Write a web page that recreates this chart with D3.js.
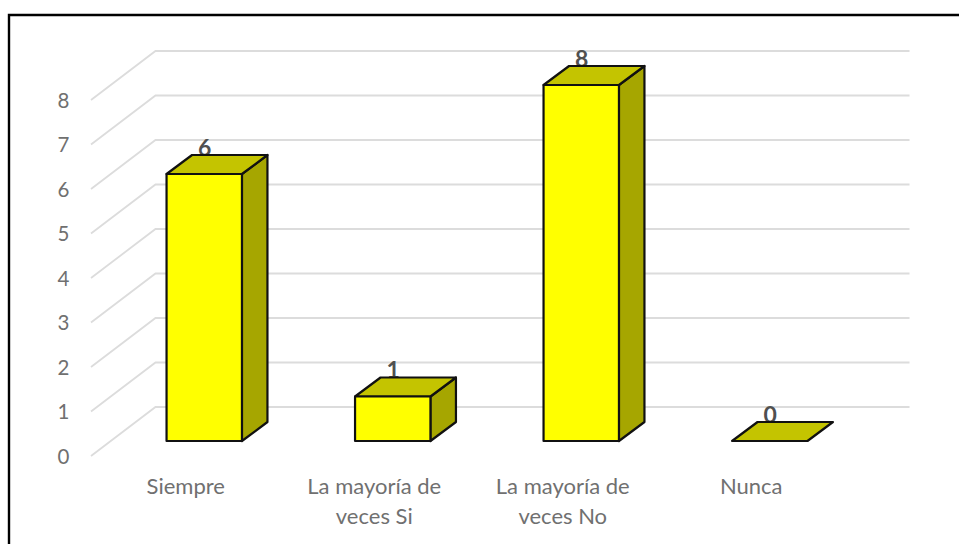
<!DOCTYPE html>
<html><head><meta charset="utf-8">
<script src="https://cdn.jsdelivr.net/npm/d3@7"></script>
<style>html,body{margin:0;padding:0;background:#fff}svg{display:block}</style>
</head><body><div id="chart"></div>
<script>
const categories = ["Siempre", "La mayoría de|veces Si", "La mayoría de|veces No", "Nunca"];
const values = [6, 1, 8, 0];
const yTicks = [0, 1, 2, 3, 4, 5, 6, 7, 8];

const W = 959, H = 544;
const x0 = 91, x1 = 845, y0 = 456, y8 = 100;
const wallDX = 64.5, wallDY = -49;
const barOffX = 19, barOffY = -15;
const barDX = 25.5, barDY = -19;
const FONT = "Lato, 'Open Sans', sans-serif";

const svg = d3.select("#chart").append("svg").attr("width", W).attr("height", H);

const x = d3.scaleBand().domain(categories).range([x0, x1]).paddingInner(0.6).paddingOuter(0.3);
const y = d3.scaleLinear().domain([0, 8]).range([y0, y8]);

// frame
svg.append("path").attr("d", `M9,${H}V15H${W}`).attr("fill", "none").attr("stroke", "#000").attr("stroke-width", 2.4);

// gridlines: side wall and back wall
const grid = svg.append("g").attr("fill", "none").attr("stroke", "#dcdcdc").attr("stroke-width", 1.8);
grid.selectAll("path").data(yTicks).join("path")
  .attr("d", d => `M${x0},${y(d)}L${x0 + wallDX},${y(d) + wallDY}L${x1 + wallDX},${y(d) + wallDY}`);

// y axis labels
const yAxis = svg.append("g").attr("transform", `translate(${x0 - 21.5},0.6)`)
  .call(d3.axisLeft(y).tickValues(yTicks).tickSize(0).tickPadding(0).tickFormat(d3.format("d")));
yAxis.select(".domain").remove();
yAxis.selectAll("text").attr("fill", "#707070").style("font-size", "20.5px").style("font-family", FONT).attr("dy", "0.33em");

// x axis labels
const xAxis = svg.append("g").attr("transform", "translate(0.5,470)")
  .call(d3.axisBottom(x).tickSize(0).tickPadding(0));
xAxis.select(".domain").remove();
xAxis.selectAll("text").each(function (d) {
  const t = d3.select(this).text(null).attr("y", 0).attr("dy", null)
    .attr("fill", "#707070").style("font-size", "22px").style("font-family", FONT);
  d.split("|").forEach((line, i) => {
    t.append("tspan").attr("x", 0).attr("y", 23.5 + i * 30).text(line);
  });
});

const fx = d => x(d) + barOffX;
const fy = v => y(v) + barOffY;
const base = y(0) + barOffY;
const w = x.bandwidth();
const rows = categories.map((c, i) => ({ c, v: values[i] }));

// data labels sit behind the bars
svg.append("g").selectAll("text").data(rows).join("text")
  .attr("x", d => fx(d.c) + w / 2 + 0.5)
  .attr("y", d => fy(d.v) - 18.5)
  .attr("text-anchor", "middle")
  .attr("fill", "#505050").attr("font-weight", 700).style("font-size", "23px").style("font-family", FONT)
  .text(d => d.v);

const bars = svg.append("g").attr("stroke", "#111").attr("stroke-width", 2.2).attr("stroke-linejoin", "round")
  .selectAll("g").data(rows).join("g");

bars.filter(d => d.v > 0).append("path").attr("fill", "#a6a600")
  .attr("d", d => `M${fx(d.c) + w},${fy(d.v)}l${barDX},${barDY}V${base + barDY}l${-barDX},${-barDY}Z`);
bars.append("path").attr("fill", "#c4c400")
  .attr("d", d => `M${fx(d.c)},${fy(d.v)}l${barDX},${barDY}h${w}l${-barDX},${-barDY}Z`);
bars.filter(d => d.v > 0).append("path").attr("fill", "#ffff00")
  .attr("d", d => `M${fx(d.c)},${fy(d.v)}h${w}V${base}h${-w}Z`);
</script></body></html>
